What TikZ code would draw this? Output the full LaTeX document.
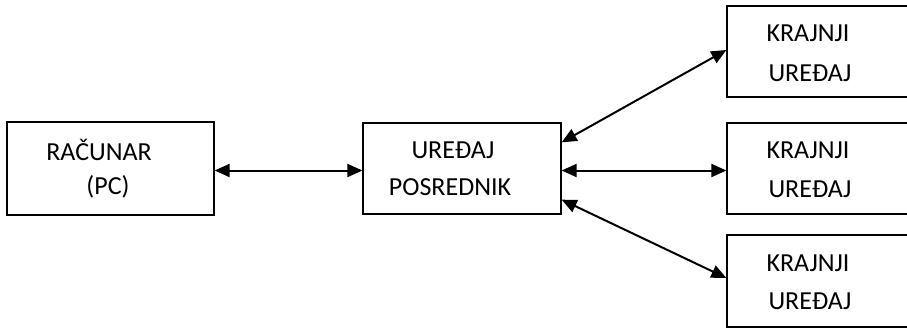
\documentclass[tikz,border=0pt]{standalone}
\usepackage{fontspec}
\setmainfont{Carlito}
\usetikzlibrary{arrows.meta}
\begin{document}
\begin{tikzpicture}[x=1pt,y=-1pt,
  box/.style={draw, line width=1.3pt, inner sep=0pt},
  lbl/.style={inner sep=0pt, font=\fontsize{26}{30}\selectfont},
  link/.style={line width=2pt, {Triangle[length=15pt,width=13pt]}-{Triangle[length=15pt,width=13pt]}}]
\clip (0,0) rectangle (907,329);
\fill[white] (0,0) rectangle (907,329);
% boxes
\node[box, minimum width=207pt, minimum height=93pt] (pc) at (110.5,168.5) {};
\node[box, minimum width=198pt, minimum height=91pt] (mid) at (462,168.5) {};
\node[box, minimum width=190pt, minimum height=91pt] (e1) at (822,51.5) {};
\node[box, minimum width=190pt, minimum height=91pt] (e2) at (822,168.5) {};
\node[box, minimum width=190pt, minimum height=92pt] (e3) at (822,281) {};
% labels
\node[lbl] (pc1) at (99,150) {RAČUNAR};
\node[lbl] (pc2) at (108,187) {(PC)};
\node[lbl] (mid1) at (453,150) {UREĐAJ};
\node[lbl] (mid2) at (450,187) {POSREDNIK};
\node[lbl] (e1a) at (808,33) {KRAJNJI};
\node[lbl] (e1b) at (810,73) {UREĐAJ};
\node[lbl] (e2a) at (808,150) {KRAJNJI};
\node[lbl] (e2b) at (810,189) {UREĐAJ};
\node[lbl] (e3a) at (808,263) {KRAJNJI};
\node[lbl] (e3b) at (810,301) {UREĐAJ};
% connectors (shifts are in page units: positive = upwards)
\draw[link] ([yshift=-2pt]pc.east) -- ([yshift=-2pt]mid.west);
\draw[link] ([yshift=-2pt]mid.east) -- ([yshift=-2pt]e2.west);
\draw[link] ([yshift=-20pt]mid.north east) -- ([yshift=1.5pt]e1.west);
\draw[link] ([yshift=15pt]mid.south east) -- ([yshift=3pt]e3.west);
\end{tikzpicture}
\end{document}
